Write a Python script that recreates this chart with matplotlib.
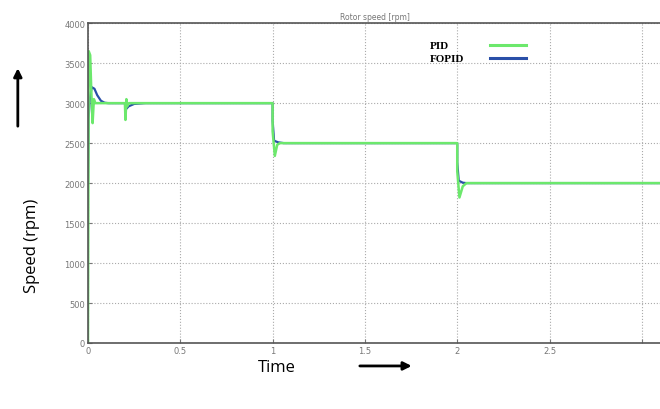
import matplotlib
matplotlib.use("Agg")
import matplotlib.pyplot as plt
from matplotlib.lines import Line2D
from matplotlib.patches import FancyArrowPatch

# PID response (green)
t_pid = [0, 0.004, 0.012, 0.018, 0.025, 0.032, 0.04, 0.2, 0.203, 0.208, 0.212, 0.222,
         1.0, 1.0, 1.012, 1.025, 1.04, 2.0, 2.0, 2.012, 2.03, 2.05, 3.2]
v_pid = [0, 3650, 3600, 3150, 2750, 3050, 3000, 3000, 2790, 3050, 2960, 3000,
         3000, 2650, 2340, 2480, 2500, 2500, 2150, 1820, 1960, 2000, 2000]

# FOPID response (blue)
t_fopid = [0, 0.003, 0.01, 0.02, 0.035, 0.05, 0.07, 0.09, 0.11, 0.2, 0.204, 0.22, 0.25, 0.31,
           1.0, 1.0, 1.008, 1.03, 1.06, 2.0, 2.0, 2.008, 2.03, 2.05, 3.2]
v_fopid = [2000, 2800, 3050, 3200, 3180, 3100, 3030, 3005, 3000, 3000, 2920, 2960, 2990, 3000,
           3000, 2780, 2530, 2510, 2500, 2500, 2260, 2030, 2005, 2000, 2000]

xticks = [0, 0.5, 1, 1.5, 2, 2.5, 3]
xtick_labels = ["0", "0.5", "1", "1.5", "2", "2.5", ""]
yticks = [0, 500, 1000, 1500, 2000, 2500, 3000, 3500, 4000]
series_names = ["PID", "FOPID"]
green = "#6ce86c"
blue = "#2a4fa8"

fig = plt.figure(figsize=(6.6, 4.1), dpi=100)
ax = fig.add_axes([0.1333, 0.161, 0.87, 0.78])

ax.plot(t_fopid, v_fopid, color=blue, lw=1.6)
ax.plot(t_pid, v_pid, color=green, lw=1.8)

ax.set_xlim(0, 3.11)
ax.set_ylim(0, 4000)
ax.set_xticks(xticks)
ax.set_xticklabels(xtick_labels)
ax.set_yticks(yticks)
ax.tick_params(direction="in", labelsize=6, colors="#777777", length=3, pad=2)
ax.grid(True, linestyle=":", color="#aaaaaa", lw=0.8)
for s in ax.spines.values():
    s.set_color("#555555")
    s.set_linewidth(1.2)
ax.spines["right"].set_visible(False)
ax.set_title("Rotor speed [rpm]", fontsize=5.5, color="#777777", pad=3)

# hand-made legend: labels left, line samples right
for i, (name, col) in enumerate(zip(series_names, [green, blue])):
    y = 0.886 - i * 0.031
    fig.text(0.651, y, name, family="Liberation Serif", weight="bold", fontsize=8,
             ha="left", va="center")
    fig.add_artist(Line2D([0.742, 0.797], [y + 0.002, y + 0.002], color=col, lw=2.2,
                          transform=fig.transFigure))

fig.text(0.048, 0.4, "Speed (rpm)", rotation=90, fontsize=12, family="Open Sans",
         ha="center", va="center")
fig.text(0.42, 0.103, "Time", fontsize=12, family="Open Sans", ha="center", va="center")
fig.add_artist(FancyArrowPatch((0.027, 0.683), (0.027, 0.838), transform=fig.transFigure,
                               arrowstyle="-|>", mutation_scale=12, lw=2, color="black"))
fig.add_artist(FancyArrowPatch((0.541, 0.105), (0.628, 0.105), transform=fig.transFigure,
                               arrowstyle="-|>", mutation_scale=12, lw=2, color="black"))

fig.savefig("out.png", dpi=100)
